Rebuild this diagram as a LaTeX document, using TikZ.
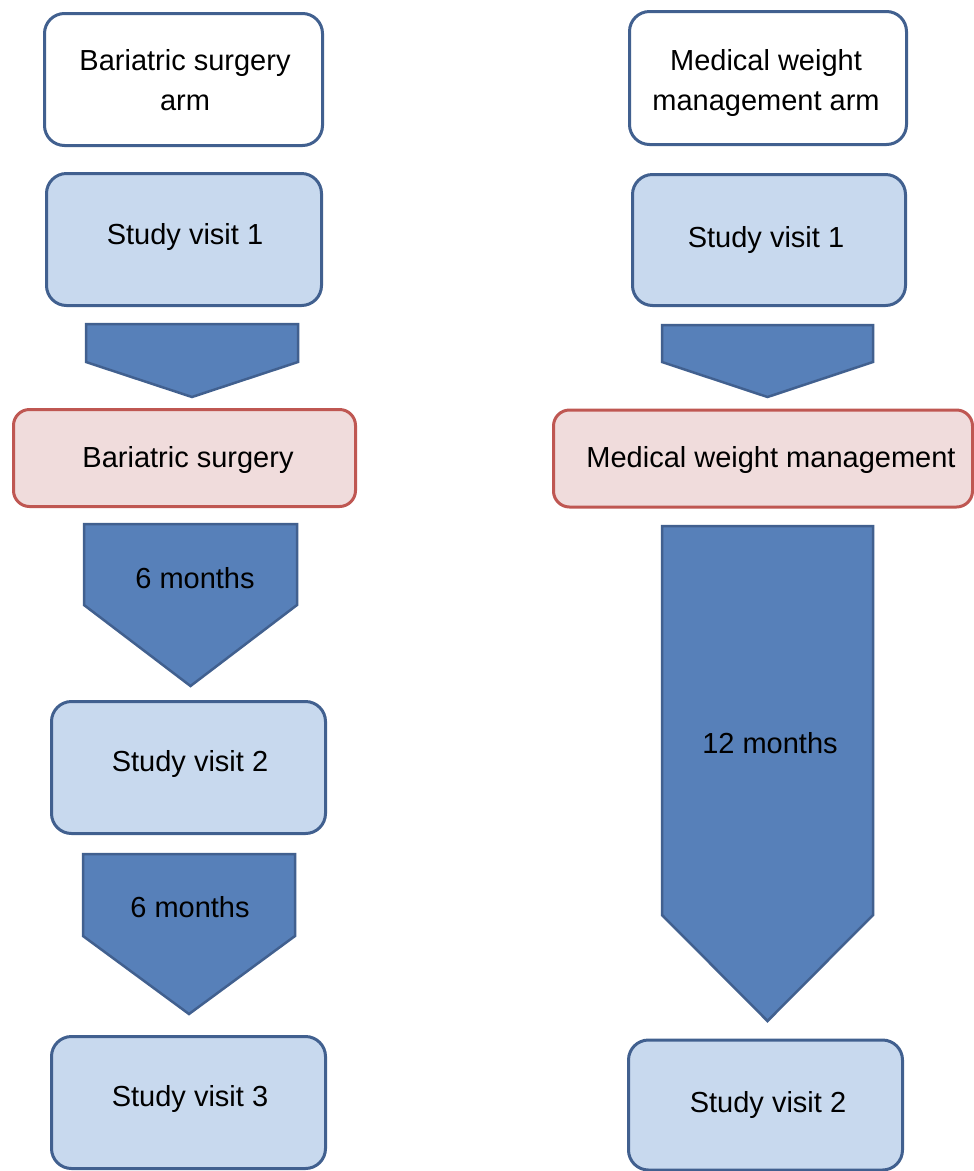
\documentclass[tikz,border=0pt]{standalone}
\usepackage{fontspec}
\setmainfont{Liberation Sans}
\definecolor{boxline}{HTML}{41608F}
\definecolor{boxfill}{HTML}{C8D9EE}
\definecolor{arrowfill}{HTML}{5780B9}
\definecolor{arrowline}{HTML}{41608F}
\definecolor{redline}{HTML}{BF5752}
\definecolor{redfill}{HTML}{F0DCDC}
\begin{document}
\begin{tikzpicture}[x=1pt,y=-1pt,
  every node/.style={font=\fontsize{29}{40}\selectfont, text=black, inner sep=0pt},
  txt/.style={align=center},
  armbox/.style={draw=boxline, fill=white, line width=3pt, rounded corners=20pt},
  visitbox/.style={draw=boxline, fill=boxfill, line width=3pt, rounded corners=20pt},
  treatbox/.style={draw=redline, fill=redfill, line width=3pt, rounded corners=16pt},
  chev/.style={draw=arrowline, fill=arrowfill, line width=2.5pt, line join=miter}]
\useasboundingbox (0,0) rectangle (974,1171);
\fill[white] (0,0) rectangle (974,1171);

% ---------- Left column ----------
\node[armbox, minimum width=278pt, minimum height=132pt] (armL) at (183.5,79.5) {};
\node[txt] (armLt) at (185,80) {Bariatric surgery\\arm};
\node[visitbox, minimum width=275pt, minimum height=132pt] (v1L) at (184,239.5) {};
\node[txt] (v1Lt) at (185,237) {Study visit 1};
\draw[chev] (86,324) -- (298,324) -- (298,362) -- (192,397) coordinate (c1tip) -- (86,362) -- cycle;
\node[treatbox, minimum width=342pt, minimum height=97pt] (trL) at (184.5,458) {};
\node[txt] (trLt) at (188,460) {Bariatric surgery};
\draw[chev] (84,524) -- (297,524) -- (297,605) -- (190.5,686) coordinate (c2tip) -- (84,605) -- cycle;
\node[txt] (m1) at (195,578) {6 months};
\node[visitbox, minimum width=274pt, minimum height=132pt] (v2L) at (188.5,767.5) {};
\node[txt] (v2Lt) at (190,764) {Study visit 2};
\draw[chev] (83,854) -- (295,854) -- (295,936) -- (189,1014) coordinate (c3tip) -- (83,936) -- cycle;
\node[txt] (m2) at (190,907) {6 months};
\node[visitbox, minimum width=274pt, minimum height=132pt] (v3L) at (188.5,1102.5) {};
\node[txt] (v3Lt) at (190,1099) {Study visit 3};

% ---------- Right column ----------
\node[armbox, minimum width=277pt, minimum height=133pt] (armR) at (768,78) {};
\node[txt] (armRt) at (766,83) {Medical weight\\management arm};
\node[visitbox, minimum width=273pt, minimum height=131pt] (v1R) at (769,240) {};
\node[txt] (v1Rt) at (766,240) {Study visit 1};
\draw[chev] (662,325) -- (873,325) -- (873,362) -- (767.5,397) coordinate (c4tip) -- (662,362) -- cycle;
\node[treatbox, minimum width=419pt, minimum height=97pt] (trR) at (763,458.5) {};
\node[txt] (trRt) at (771,460) {Medical weight management};
\draw[chev] (662,526) -- (873,526) -- (873,915) -- (767.5,1021) coordinate (c5tip) -- (662,915) -- cycle;
\node[txt] (m3) at (770,743) {12 months};
\node[visitbox, minimum width=274pt, minimum height=130pt] (v2R) at (765.5,1105) {};
\node[txt] (v2Rt) at (768,1105) {Study visit 2};
\end{tikzpicture}
\end{document}
